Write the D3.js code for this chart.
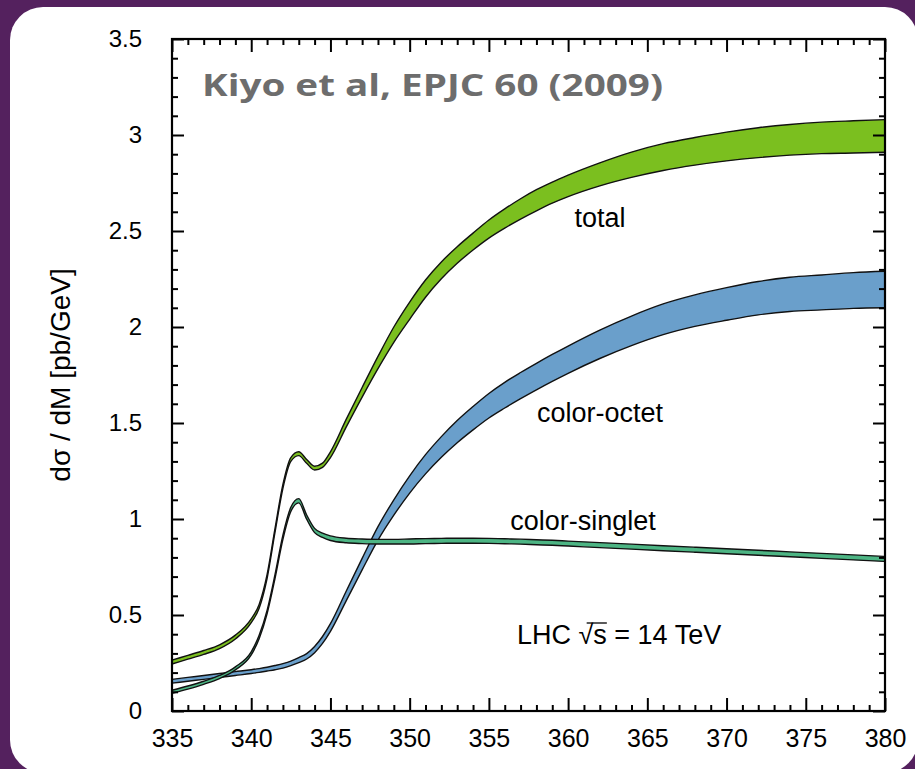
<!DOCTYPE html>
<html>
<head>
<meta charset="utf-8">
<script src="https://cdn.jsdelivr.net/npm/d3@7"></script>
<style>
  html, body { margin: 0; padding: 0; background: #54215e; }
  svg { display: block; }
</style>
</head>
<body>
<svg id="chart" width="915" height="769"></svg>
<script>
// Invariant mass grid (GeV)
const mass = [335, 336, 337, 338, 339, 340, 340.5, 341, 341.5, 342, 342.5, 343, 343.5, 344, 344.5,
              345, 346, 347, 348, 349, 350, 351, 352, 353, 354, 355, 356, 357, 358, 359, 360,
              362, 364, 366, 368, 370, 372, 374, 376, 378, 380];

// Total: central value and half-width of the uncertainty band (pb/GeV)
const totalMid = [0.255, 0.28, 0.305, 0.335, 0.385, 0.47, 0.545, 0.70, 0.94, 1.17, 1.31, 1.34, 1.30, 1.265, 1.28,
                  1.335, 1.50, 1.66, 1.815, 1.96, 2.085, 2.20, 2.295, 2.375, 2.445, 2.51, 2.565, 2.615, 2.66, 2.70, 2.735,
                  2.795, 2.845, 2.885, 2.915, 2.94, 2.96, 2.975, 2.985, 2.99, 2.995];
const totalErr = [0.01, 0.01, 0.01, 0.01, 0.01, 0.01, 0.01, 0.01, 0.01, 0.01, 0.01, 0.01, 0.01, 0.01, 0.011,
                  0.015, 0.02, 0.025, 0.032, 0.04, 0.045, 0.045, 0.044, 0.043, 0.044, 0.047, 0.05, 0.053, 0.055, 0.055, 0.056,
                  0.06, 0.066, 0.07, 0.072, 0.075, 0.078, 0.08, 0.082, 0.084, 0.085];

// Color-singlet
const singletMid = [0.10, 0.122, 0.147, 0.177, 0.222, 0.30, 0.385, 0.515, 0.70, 0.905, 1.05, 1.095, 1.01, 0.94, 0.915,
                    0.90, 0.888, 0.884, 0.882, 0.882, 0.883, 0.885, 0.886, 0.887, 0.887, 0.886, 0.884, 0.882, 0.879, 0.876, 0.872,
                    0.864, 0.856, 0.848, 0.84, 0.832, 0.824, 0.816, 0.808, 0.80, 0.792];
const singletErr = [0.008, 0.008, 0.008, 0.008, 0.008, 0.008, 0.009, 0.009, 0.01, 0.011, 0.011, 0.011, 0.011, 0.011, 0.011,
                    0.012, 0.012, 0.012, 0.012, 0.012, 0.013, 0.013, 0.013, 0.013, 0.013, 0.013, 0.013, 0.013, 0.013, 0.013, 0.013,
                    0.013, 0.013, 0.013, 0.013, 0.013, 0.013, 0.013, 0.013, 0.013, 0.013];

// Color-octet
const octetMid = [0.155, 0.165, 0.175, 0.185, 0.195, 0.205, 0.211, 0.218, 0.226, 0.235, 0.248, 0.265, 0.285, 0.32, 0.37,
                  0.435, 0.60, 0.765, 0.925, 1.06, 1.18, 1.285, 1.375, 1.455, 1.525, 1.59, 1.645, 1.695, 1.742, 1.787, 1.83,
                  1.91, 1.98, 2.04, 2.085, 2.12, 2.15, 2.17, 2.18, 2.19, 2.195];
const octetErr = [0.01, 0.01, 0.01, 0.01, 0.01, 0.01, 0.01, 0.01, 0.011, 0.012, 0.012, 0.013, 0.014, 0.016, 0.018,
                  0.02, 0.025, 0.03, 0.035, 0.04, 0.045, 0.05, 0.054, 0.058, 0.061, 0.064, 0.067, 0.068, 0.069, 0.07, 0.071,
                  0.074, 0.077, 0.08, 0.082, 0.085, 0.087, 0.089, 0.091, 0.093, 0.095];

// Axis ticks and labels
const xTicks = [335, 340, 345, 350, 355, 360, 365, 370, 375, 380];
const xTickLabels = ["335", "340", "345", "350", "355", "360", "365", "370", "375", "380"];
const yTicks = [0, 0.5, 1, 1.5, 2, 2.5, 3, 3.5];
const yTickLabels = ["0", "0.5", "1", "1.5", "2", "2.5", "3", "3.5"];
const xMinorStep = 1;
const yMinorStep = 0.1;

const svg = d3.select("#chart");
const W = 915, H = 769;

// Card background
svg.append("rect").attr("x", 0).attr("y", 0).attr("width", W).attr("height", H).attr("fill", "#54215e");
svg.append("rect").attr("x", 10).attr("y", 7).attr("width", 908).attr("height", 766)
  .attr("rx", 33).attr("ry", 33).attr("fill", "#ffffff");

const plot = { left: 172, right: 885, top: 39, bottom: 711 };
const x = d3.scaleLinear().domain([335, 380]).range([plot.left, plot.right]);
const y = d3.scaleLinear().domain([0, 3.5]).range([plot.bottom, plot.top]);

const FONT = "'Liberation Sans', Arial, sans-serif";

// Uncertainty band: filled area between mid-err and mid+err, outlined on both edges
function band(mid, err, fill) {
  const pts = mass.map((m, i) => ({ m, lo: mid[i] - err[i], hi: mid[i] + err[i] }));
  const area = d3.area().x(d => x(d.m)).y0(d => y(d.lo)).y1(d => y(d.hi)).curve(d3.curveMonotoneX);
  const lineLo = d3.line().x(d => x(d.m)).y(d => y(d.lo)).curve(d3.curveMonotoneX);
  const lineHi = d3.line().x(d => x(d.m)).y(d => y(d.hi)).curve(d3.curveMonotoneX);
  const g = svg.append("g");
  g.append("path").attr("d", area(pts)).attr("fill", fill).attr("stroke", "none");
  g.append("path").attr("d", lineLo(pts)).attr("fill", "none").attr("stroke", "#111").attr("stroke-width", 1.4);
  g.append("path").attr("d", lineHi(pts)).attr("fill", "none").attr("stroke", "#111").attr("stroke-width", 1.4);
}
band(octetMid, octetErr, "#6a9fcb");
band(singletMid, singletErr, "#4db584");
band(totalMid, totalErr, "#7bbf1f");

// Minor tick positions
const xMinor = d3.range(335, 380.001, xMinorStep).filter(v => !xTicks.includes(v));
const yMinor = d3.range(0, 3.5001, yMinorStep).map(v => +v.toFixed(2)).filter(v => !yTicks.some(t => Math.abs(t - v) < 1e-6));

function styleAxis(g) {
  g.select(".domain").remove();
  g.selectAll("line").attr("stroke", "#000").attr("stroke-width", 2);
}

// Bottom axis (labels + inward ticks)
svg.append("g").attr("transform", `translate(0,${plot.bottom})`)
  .call(d3.axisBottom(x).tickValues(xTicks).tickSize(-13).tickPadding(18)
    .tickFormat((d, i) => xTickLabels[i]))
  .call(styleAxis)
  .call(g => g.selectAll("text").attr("font-family", FONT).attr("font-size", 25).attr("fill", "#000"));
svg.append("g").attr("transform", `translate(0,${plot.bottom})`)
  .call(d3.axisBottom(x).tickValues(xMinor).tickSize(-6).tickFormat(""))
  .call(styleAxis);

// Top axis (ticks only)
svg.append("g").attr("transform", `translate(0,${plot.top})`)
  .call(d3.axisTop(x).tickValues(xTicks).tickSize(-13).tickFormat(""))
  .call(styleAxis);
svg.append("g").attr("transform", `translate(0,${plot.top})`)
  .call(d3.axisTop(x).tickValues(xMinor).tickSize(-6).tickFormat(""))
  .call(styleAxis);

// Left axis
svg.append("g").attr("transform", `translate(${plot.left},0)`)
  .call(d3.axisLeft(y).tickValues(yTicks).tickSize(-12).tickPadding(30)
    .tickFormat((d, i) => yTickLabels[i]))
  .call(styleAxis)
  .call(g => g.selectAll("text").attr("font-family", FONT).attr("font-size", 24).attr("fill", "#000"));
svg.append("g").attr("transform", `translate(${plot.left},0)`)
  .call(d3.axisLeft(y).tickValues(yMinor).tickSize(-6).tickFormat(""))
  .call(styleAxis);

// Right axis (ticks only)
svg.append("g").attr("transform", `translate(${plot.right},0)`)
  .call(d3.axisRight(y).tickValues(yTicks).tickSize(-12).tickFormat(""))
  .call(styleAxis);
svg.append("g").attr("transform", `translate(${plot.right},0)`)
  .call(d3.axisRight(y).tickValues(yMinor).tickSize(-6).tickFormat(""))
  .call(styleAxis);

// Frame
svg.append("rect").attr("x", plot.left).attr("y", plot.top)
  .attr("width", plot.right - plot.left).attr("height", plot.bottom - plot.top)
  .attr("fill", "none").attr("stroke", "#000").attr("stroke-width", 2.2);

// Y axis title
svg.append("text")
  .attr("transform", `translate(70,${(plot.top + plot.bottom) / 2}) rotate(-90)`)
  .attr("text-anchor", "middle").attr("font-family", FONT).attr("font-size", 28).attr("fill", "#000")
  .text("dσ / dM [pb/GeV]");

// Reference note
svg.append("text").attr("x", 202).attr("y", 96)
  .attr("font-family", "'Open Sans', 'Noto Sans', sans-serif").attr("font-weight", 700)
  .attr("font-size", 30).attr("fill", "#6d6d6d")
  .attr("textLength", 461).attr("lengthAdjust", "spacingAndGlyphs")
  .text("Kiyo et al, EPJC 60 (2009)");

// Band labels
const labelStyle = t => t.attr("font-family", FONT).attr("font-size", 27).attr("fill", "#000").attr("text-anchor", "middle");
svg.append("text").attr("x", 600).attr("y", 227).call(labelStyle).text("total");
svg.append("text").attr("x", 600).attr("y", 422).call(labelStyle).text("color-octet");
svg.append("text").attr("x", 583).attr("y", 530).call(labelStyle).text("color-singlet");

// Collider energy note with radical overbar over "s"
const lhc = svg.append("text").attr("x", 517).attr("y", 644)
  .attr("font-family", FONT).attr("font-size", 27).attr("fill", "#000")
  .text("LHC √s = 14 TeV");
const node = lhc.node();
const rootExt = node.getExtentOfChar(4);
const sExt = node.getExtentOfChar(5);
svg.append("line")
  .attr("x1", rootExt.x + rootExt.width * 0.55).attr("x2", sExt.x + sExt.width)
  .attr("y1", 644 - 21).attr("y2", 644 - 21)
  .attr("stroke", "#000").attr("stroke-width", 1.3);
</script>
</body>
</html>
